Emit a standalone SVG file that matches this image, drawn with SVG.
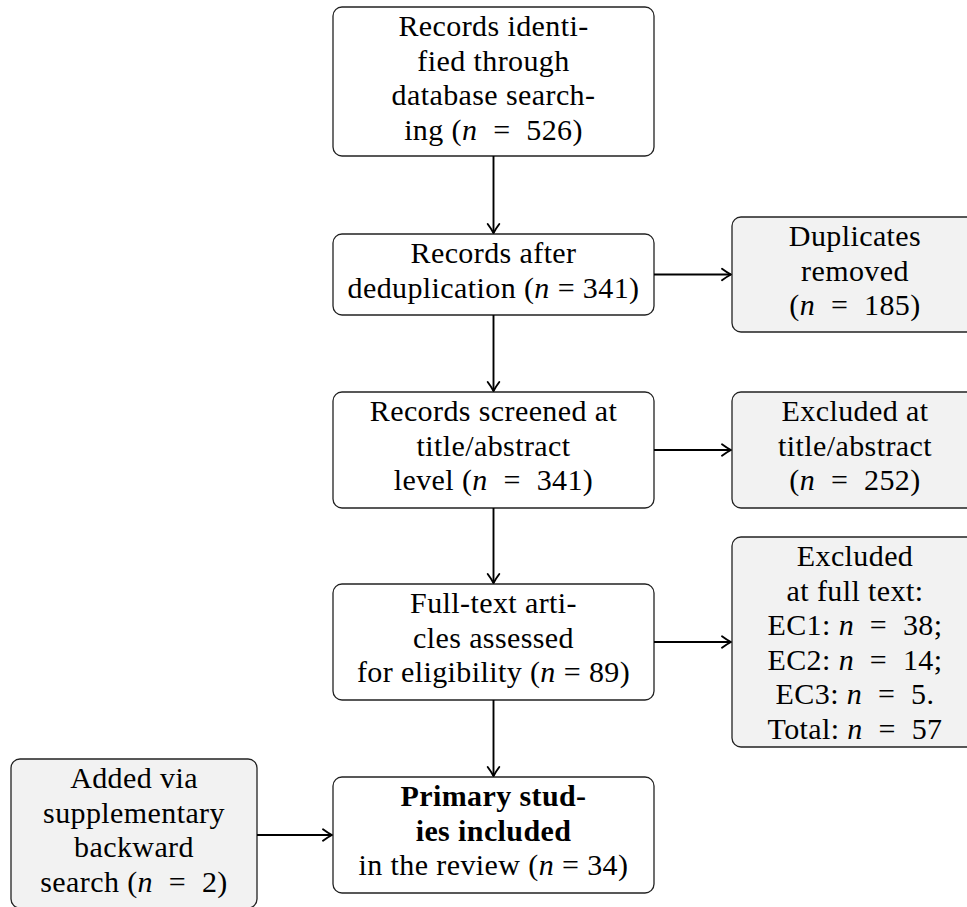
<svg xmlns="http://www.w3.org/2000/svg" width="967" height="907" viewBox="0 0 967 907">
<style>
  .box { fill: #ffffff; stroke: #222222; stroke-width: 1.3; }
  .gray { fill: #f2f2f2; stroke: #222222; stroke-width: 1.3; }
  .t { font-family: 'Liberation Serif', 'DejaVu Serif', serif; font-size: 30px; fill: #000; text-anchor: middle; letter-spacing: 0.4px; white-space: pre; }
  .m { font-style: italic; }
  .b { font-weight: bold; }
  .conn line { stroke: #000; stroke-width: 1.9; fill: none; marker-end: url(#arr); }
</style>
<defs>
  <marker id="arr" markerUnits="userSpaceOnUse" viewBox="-10 -7 11 14" refX="0" refY="0" markerWidth="11" markerHeight="14" orient="auto" overflow="visible">
    <path d="M -9 -5.8 C -5.5 -3.2 -2.2 -1.1 0 0 C -2.2 1.1 -5.5 3.2 -9 5.8" fill="none" stroke="#000" stroke-width="1.9" stroke-linecap="round" stroke-linejoin="round"/>
  </marker>
</defs>

<g id="identified" class="t" font-family="Liberation Serif, serif">
  <rect class="box" x="333" y="7" width="321" height="149" rx="9"/>
  <text class="t" x="493.5" y="36">Records identi-</text>
  <text class="t" x="493.5" y="70.5">fied through</text>
  <text class="t" x="493.5" y="105">database search-</text>
  <text class="t" x="493.5" y="139.5">ing (<tspan class="m">n</tspan>  =  526)</text>
</g>

<g id="dedup" class="t" font-family="Liberation Serif, serif">
  <rect class="box" x="333" y="234" width="321" height="81" rx="9"/>
  <text class="t" x="493.5" y="263">Records after</text>
  <text class="t" x="493.5" y="297.5">deduplication (<tspan class="m">n</tspan> = 341)</text>
</g>

<g id="screened" class="t" font-family="Liberation Serif, serif">
  <rect class="box" x="333" y="392" width="321" height="116" rx="9"/>
  <text class="t" x="493.5" y="421">Records screened at</text>
  <text class="t" x="493.5" y="455.5">title/abstract</text>
  <text class="t" x="493.5" y="490">level (<tspan class="m">n</tspan>  =  341)</text>
</g>

<g id="fulltext" class="t" font-family="Liberation Serif, serif">
  <rect class="box" x="333" y="584" width="321" height="116" rx="9"/>
  <text class="t" x="493.5" y="613">Full-text arti-</text>
  <text class="t" x="493.5" y="647.5">cles assessed</text>
  <text class="t" x="493.5" y="682">for eligibility (<tspan class="m">n</tspan> = 89)</text>
</g>

<g id="included" class="t" font-family="Liberation Serif, serif">
  <rect class="box" x="333" y="777" width="321" height="116" rx="9"/>
  <text class="t b" x="493.5" y="806">Primary stud-</text>
  <text class="t b" x="493.5" y="840.5">ies included</text>
  <text class="t" x="493.5" y="875">in the review (<tspan class="m">n</tspan> = 34)</text>
</g>

<g id="duplicates" class="t" font-family="Liberation Serif, serif">
  <rect class="gray" x="732" y="217" width="246" height="115" rx="9"/>
  <text class="t" x="855" y="246">Duplicates</text>
  <text class="t" x="855" y="280.5">removed</text>
  <text class="t" x="855" y="315">(<tspan class="m">n</tspan>  =  185)</text>
</g>

<g id="excluded-title" class="t" font-family="Liberation Serif, serif">
  <rect class="gray" x="732" y="392" width="246" height="116" rx="9"/>
  <text class="t" x="855" y="421">Excluded at</text>
  <text class="t" x="855" y="455.5">title/abstract</text>
  <text class="t" x="855" y="490">(<tspan class="m">n</tspan>  =  252)</text>
</g>

<g id="excluded-full" class="t" font-family="Liberation Serif, serif">
  <rect class="gray" x="732" y="537" width="246" height="210" rx="9"/>
  <text class="t" x="855" y="566">Excluded</text>
  <text class="t" x="855" y="600.5">at full text:</text>
  <text class="t" x="855" y="635">EC1: <tspan class="m">n</tspan>  =  38;</text>
  <text class="t" x="855" y="669.5">EC2: <tspan class="m">n</tspan>  =  14;</text>
  <text class="t" x="855" y="704">EC3: <tspan class="m">n</tspan>  =  5.</text>
  <text class="t" x="855" y="738.5">Total: <tspan class="m">n</tspan>  =  57</text>
</g>

<g id="added" class="t" font-family="Liberation Serif, serif">
  <rect class="gray" x="11" y="759" width="246" height="149" rx="9"/>
  <text class="t" x="134" y="788">Added via</text>
  <text class="t" x="134" y="822.5">supplementary</text>
  <text class="t" x="134" y="857">backward</text>
  <text class="t" x="134" y="891.5">search (<tspan class="m">n</tspan>  =  2)</text>
</g>

<g id="connectors" class="conn">
  <line x1="493.5" y1="156" x2="493.5" y2="233"/>
  <line x1="493.5" y1="315" x2="493.5" y2="391"/>
  <line x1="493.5" y1="508" x2="493.5" y2="583"/>
  <line x1="493.5" y1="700" x2="493.5" y2="776"/>
  <line x1="654" y1="274.5" x2="731" y2="274.5"/>
  <line x1="654" y1="450" x2="731" y2="450"/>
  <line x1="654" y1="642" x2="731" y2="642"/>
  <line x1="257" y1="835" x2="332" y2="835"/>
</g>
</svg>
